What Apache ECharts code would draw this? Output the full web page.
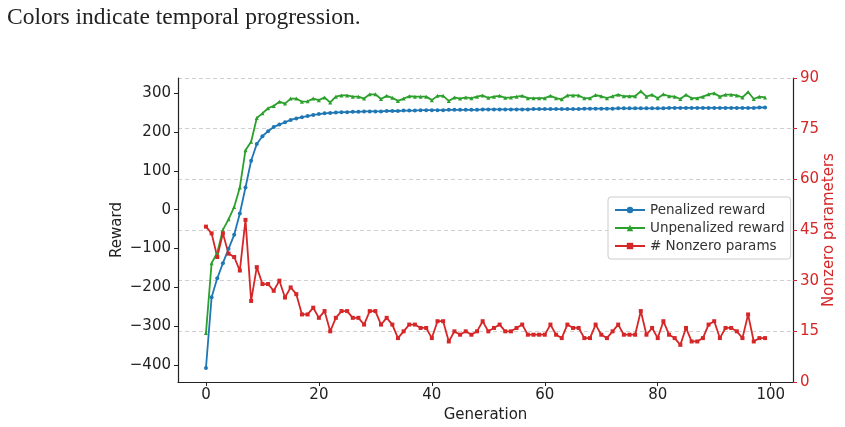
<!DOCTYPE html>
<html><head><meta charset="utf-8">
<script src="https://cdn.jsdelivr.net/npm/echarts@6/dist/echarts.min.js"></script>
<style>html,body{margin:0;padding:0;background:#fff}#c{width:845px;height:427px}</style>
</head><body><div id="c"></div>
<script>
const captionText = "Colors indicate temporal progression.";
const seriesNames = ["Penalized reward", "Unpenalized reward", "# Nonzero params"];
const xTicks = [0, 20, 40, 60, 80, 100];
const leftTicks = [-400, -300, -200, -100, 0, 100, 200, 300];
const rightTicks = [0, 15, 30, 45, 60, 75, 90];
const penalized = [-408,-226,-177,-138,-101,-65,-10,57,126,169,
 189,202,213,219,225,231,235,238,241,244,
 246,248,249,250,251,251,252,252,253,253,
 253,253,254,254,254,255,255,255,256,256,
 256,256,256,257,257,257,257,257,257,258,
 258,258,258,258,258,258,258,258,259,259,
 259,259,259,259,259,259,259,260,260,260,
 260,260,260,261,261,261,261,261,261,261,
 261,261,262,262,262,262,262,262,262,262,
 262,262,262,262,262,262,262,262,263,263];
const unpenalized = [-318,-138,-111,-52,-25,7,57,153,175,236,
 248,261,267,278,273,286,286,278,279,286,
 282,289,276,291,294,294,291,291,286,297,
 297,285,293,288,280,286,292,291,291,291,
 282,293,293,280,289,286,289,287,291,294,
 288,291,293,288,289,291,293,287,287,287,
 287,293,287,284,294,294,294,287,287,295,
 292,287,292,296,292,292,292,305,291,296,
 287,297,292,291,285,296,287,287,291,297,
 300,291,296,296,294,289,303,285,291,289];
const nonzero = [46,44,37,44,38,37,33,48,24,34,
 29,29,27,30,25,28,26,20,20,22,
 19,21,15,19,21,21,19,19,17,21,
 21,17,19,17,13,15,17,17,16,16,
 13,18,18,12,15,14,15,14,15,18,
 15,16,17,15,15,16,17,14,14,14,
 14,17,14,13,17,16,16,13,13,17,
 14,13,15,17,14,14,14,21,14,16,
 13,18,14,13,11,16,12,12,13,17,
 18,13,16,16,15,13,20,12,13,13];
const generations = penalized.map((_, i) => i);

const pair = arr => arr.map((v, i) => [generations[i], v]);
const minus = v => String(v).replace('-', '\u2212');
const FONT = 'DejaVu Sans';
const chart = echarts.init(document.getElementById('c'), null, {renderer: 'canvas'});
chart.setOption({
  animation: false,
  backgroundColor: '#fff',
  title: {text: captionText, left: 2, top: 1,
    textStyle: {fontFamily: 'Liberation Serif', fontSize: 23.5, fontWeight: 'normal', color: '#222'}},
  grid: {left: 178, right: 52, top: 78, bottom: 45, outerBoundsMode: 'none', containLabel: false},
  legend: {
    orient: 'vertical', left: 608, top: 197, itemWidth: 30, itemHeight: 8, itemGap: 4,
    backgroundColor: 'rgba(255,255,255,0.85)', borderColor: '#ccc', borderWidth: 1, borderRadius: 3,
    padding: [6, 6, 6, 6],
    textStyle: {fontFamily: FONT, fontSize: 13.5, color: '#333'},
    data: seriesNames
  },
  xAxis: {
    type: 'value', min: -4.95, max: 103.95,
    name: 'Generation', nameLocation: 'middle', nameGap: 26, nameMoveOverlap: false,
    nameTextStyle: {fontFamily: FONT, fontSize: 15, color: '#222'},
    axisLine: {show: true, onZero: false, lineStyle: {color: '#222', width: 1.2}},
    axisTick: {show: true, customValues: xTicks, length: 4, lineStyle: {color: '#222'}},
    axisLabel: {customValues: xTicks, fontFamily: FONT, fontSize: 15, color: '#222', margin: 6},
    splitLine: {show: false}
  },
  yAxis: [{
    type: 'value', min: -444, max: 339, position: 'left',
    name: 'Reward', nameLocation: 'middle', nameGap: 53, nameRotate: 90, nameMoveOverlap: false,
    nameTextStyle: {fontFamily: FONT, fontSize: 15, color: '#222'},
    axisLine: {show: true, onZero: false, lineStyle: {color: '#222', width: 1.2}},
    axisTick: {show: true, customValues: leftTicks, length: 4, lineStyle: {color: '#222'}},
    axisLabel: {customValues: leftTicks, formatter: minus, fontFamily: FONT, fontSize: 15, color: '#222', margin: 7},
    splitLine: {show: false}
  }, {
    type: 'value', min: 0, max: 90, interval: 15, position: 'right',
    name: 'Nonzero parameters', nameLocation: 'middle', nameGap: 29, nameRotate: 90, nameMoveOverlap: false,
    nameTextStyle: {fontFamily: FONT, fontSize: 15, color: '#d62728'},
    axisLine: {show: true, onZero: false, lineStyle: {color: '#222', width: 1.2}},
    axisTick: {show: true, length: 4, lineStyle: {color: '#d62728'}},
    axisLabel: {fontFamily: FONT, fontSize: 15, color: '#d62728', margin: 7},
    splitLine: {show: true, lineStyle: {color: '#d0d0d0', type: [4, 3], width: 1}}
  }],
  series: [{
    name: seriesNames[0], type: 'line', yAxisIndex: 0, data: pair(penalized),
    symbol: 'circle', symbolSize: 4, showSymbol: true,
    lineStyle: {color: '#1f77b4', width: 1.8}, itemStyle: {color: '#1f77b4'}
  }, {
    name: seriesNames[1], type: 'line', yAxisIndex: 0, data: pair(unpenalized),
    symbol: 'triangle', symbolSize: 4, showSymbol: true,
    lineStyle: {color: '#2ca02c', width: 1.8}, itemStyle: {color: '#2ca02c'}
  }, {
    name: seriesNames[2], type: 'line', yAxisIndex: 1, data: pair(nonzero),
    symbol: 'rect', symbolSize: 4, showSymbol: true,
    lineStyle: {color: '#d62728', width: 1.8}, itemStyle: {color: '#d62728'}
  }]
});
</script></body></html>
